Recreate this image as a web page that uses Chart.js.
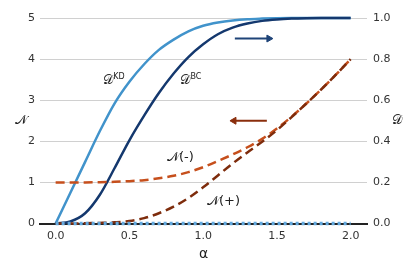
<!DOCTYPE html>
<html><head><meta charset="utf-8">
<script src="https://cdn.jsdelivr.net/npm/chart.js@4"></script>
<style>html,body{margin:0;padding:0;background:#fff}#wrap{width:416px;height:277px}</style>
</head><body><div id="wrap"><canvas id="c" width="416" height="277"></canvas></div>
<script>
const alpha = [0,0.1,0.2,0.3,0.4,0.5,0.6,0.7,0.8,0.9,1.0,1.1,1.2,1.3,1.4,1.5,1.6,1.7,1.8,1.9,2.0];
const dKD   = [0,0.15,0.30,0.45,0.585,0.69,0.775,0.845,0.895,0.935,0.962,0.978,0.988,0.994,0.997,0.999,1,1,1,1,1];
const dBC   = [0,0.01,0.05,0.14,0.27,0.405,0.525,0.635,0.73,0.81,0.872,0.921,0.953,0.973,0.986,0.993,0.997,0.999,1,1,1];
const nMinus= [1,1,1,1.005,1.015,1.03,1.055,1.1,1.16,1.25,1.37,1.52,1.68,1.855,2.06,2.31,2.6,2.92,3.26,3.62,4.0];
const nPlus = [0,0,0.005,0.015,0.03,0.06,0.13,0.25,0.41,0.62,0.88,1.17,1.46,1.73,1.99,2.27,2.59,2.92,3.26,3.62,4.0];
const dZero = [0,0,0,0,0,0,0,0,0,0,0,0,0,0,0,0,0,0,0,0,0];
const xTicks = [0,0.5,1.0,1.5,2.0];
const arrowRightX = [1.215,1.446], arrowRightD = [0.9,0.9];
const arrowLeftX  = [1.432,1.209], arrowLeftN  = [2.5,2.5];
const labels = [
  {text:'𝒟', sup:'KD', x:0.32,  n:3.47},
  {text:'𝒟', sup:'BC', x:0.843, n:3.47},
  {text:'𝒩(-)', sup:'', x:0.755, n:1.61},
  {text:'𝒩(+)', sup:'', x:1.026, n:0.54}
];

const pts = (xs, ys) => xs.map((x,i)=>({x:x, y:ys[i]}));
const FONT = "'DejaVu Sans', sans-serif";

const textPlugin = {
  id:'texts',
  afterDraw(chart){
    const ctx = chart.ctx, xs = chart.scales.x, yl = chart.scales.yN, ca = chart.chartArea;
    ctx.save();
    ctx.fillStyle = '#222';
    ctx.textBaseline = 'middle';
    ctx.textAlign = 'left';
    labels.forEach(l=>{
      const px = xs.getPixelForValue(l.x), py = yl.getPixelForValue(l.n);
      ctx.font = "13px " + FONT;
      ctx.fillText(l.text, px, py);
      if (l.sup){
        const w = ctx.measureText(l.text).width;
        ctx.font = "8px " + FONT;
        ctx.fillText(l.sup, px + w + 0.5, py - 4);
      }
    });
    ctx.font = "13px " + FONT;
    ctx.textAlign = 'center';
    ctx.fillText('𝒩', 21, (ca.top+ca.bottom)/2);
    ctx.fillText('𝒟', 397, (ca.top+ca.bottom)/2);
    ctx.font = "14px " + FONT;
    ctx.fillText('α', (ca.left+ca.right)/2, 254);
    ctx.restore();
  }
};

new Chart(document.getElementById('c'), {
  type:'line',
  data:{datasets:[
    {data:pts(alpha,dZero), yAxisID:'yD', borderColor:'#62a9df', borderWidth:3.5, borderDash:[3,3], pointRadius:0, clip:false},
    {data:pts(alpha,nPlus), yAxisID:'yN', borderColor:'#7e2c0c', borderWidth:2.5, borderDash:[9,5], pointRadius:0, cubicInterpolationMode:'monotone', clip:false},
    {data:pts(alpha,nMinus), yAxisID:'yN', borderColor:'#c64f1c', borderWidth:2.5, borderDash:[9,5], pointRadius:0, cubicInterpolationMode:'monotone', clip:false},
    {data:pts(alpha,dBC), yAxisID:'yD', borderColor:'#14386e', borderWidth:2.5, pointRadius:0, cubicInterpolationMode:'monotone', clip:false},
    {data:pts(alpha,dKD), yAxisID:'yD', borderColor:'#4193cb', borderWidth:2.5, pointRadius:0, cubicInterpolationMode:'monotone', clip:false},
    {data:pts(arrowRightX,arrowRightD), yAxisID:'yD', borderColor:'#1f4478', backgroundColor:'#1f4478', borderWidth:2,
      pointStyle:'triangle', pointRadius:[0,4], pointRotation:[0,90], pointBorderWidth:1},
    {data:pts(arrowLeftX,arrowLeftN), yAxisID:'yN', borderColor:'#8a2e0c', backgroundColor:'#8a2e0c', borderWidth:2,
      pointStyle:'triangle', pointRadius:[0,4], pointRotation:[0,-90], pointBorderWidth:1}
  ]},
  options:{
    responsive:false, animation:false,
    layout:{padding:{top:18,left:0,right:0,bottom:0}},
    plugins:{legend:{display:false}, tooltip:{enabled:false}},
    scales:{
      x:{type:'linear', min:-0.106, max:2.111,
        afterBuildTicks(s){ s.ticks = xTicks.map(v=>({value:v})); },
        afterFit(s){ s.height = 53.5; },
        grid:{display:false, drawTicks:false},
        border:{display:true, color:'#222', width:2},
        ticks:{padding:6, color:'#333', font:{family:FONT, size:11}, maxRotation:0, callback:v=>v.toFixed(1)}},
      yN:{type:'linear', position:'left', min:0, max:5,
        afterFit(s){ s.width = 40; },
        grid:{color:'#d0d0d0', lineWidth:1, drawTicks:false},
        border:{display:false},
        ticks:{stepSize:1, padding:5, color:'#333', font:{family:FONT, size:11}}},
      yD:{type:'linear', position:'right', min:0, max:1,
        afterFit(s){ s.width = 49; },
        grid:{display:false, drawTicks:false},
        border:{display:false},
        ticks:{stepSize:0.2, padding:6, color:'#333', font:{family:FONT, size:11}, callback:v=>v.toFixed(1)}}
    }
  },
  plugins:[textPlugin]
});
</script></body></html>
